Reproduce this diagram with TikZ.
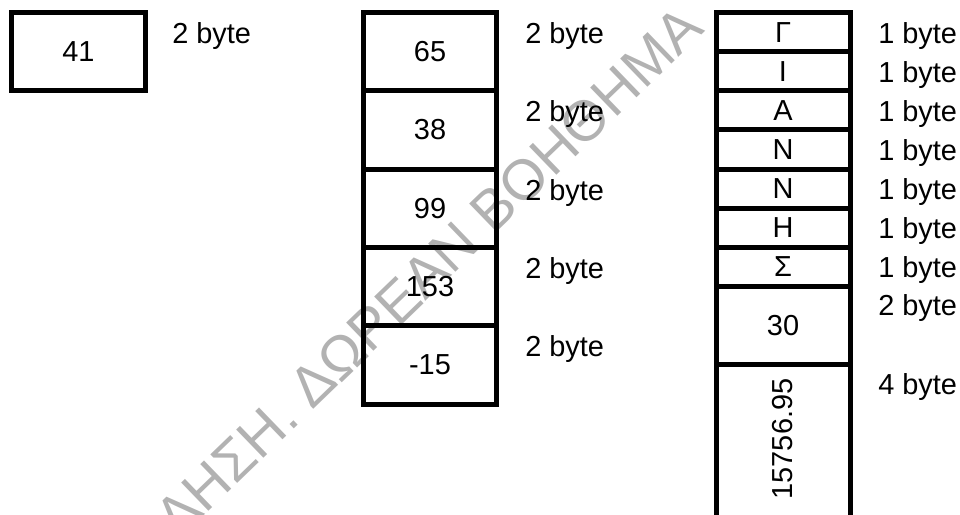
\documentclass[tikz,border=0pt]{standalone}
\usepackage{fontspec}
\setmainfont{Liberation Sans}
\newcommand{\cellfont}{\fontsize{21.7}{26}\selectfont}
\begin{document}
\begin{tikzpicture}[x=0.75pt,y=-0.75pt]
\tikzset{
  cell/.style={draw=black, line width=3.75pt, inner sep=0pt, outer sep=0pt, font=\cellfont},
  cw/.style={minimum width=#1*0.75pt},
  ch/.style={minimum height=#1*0.75pt},
  lab/.style={anchor=base west, inner sep=0pt, font=\cellfont},
  wmark/.style={anchor=base west, inner sep=0pt, text=black!30, font=\fontsize{42.75}{50}\selectfont}
}
\useasboundingbox (0,0) rectangle (960,514);
\clip (0,0) rectangle (960,514);
% watermark
\node[wmark, rotate=44] (wm) at (178,541) {ΛΗΣΗ. ΔΩΡΕΑΝ ΒΟΗΘΗΜΑ};
% single box
\node[cell, cw=134, ch=78] (b41) at (78.5,51.5) {41};
\node[lab] (l41) at (172,43) {2 byte};
% middle column
\node[cell, cw=133, ch=78.3] (m1) at (430,51.65) {65};
\node[cell, cw=133, ch=78.3] (m2) at (430,129.95) {38};
\node[cell, cw=133, ch=78.3] (m3) at (430,208.25) {99};
\node[cell, cw=133, ch=78.3] (m4) at (430,286.55) {153};
\node[cell, cw=133, ch=78.3] (m5) at (430,364.85) {-15};
\node[lab] (lm1) at (525,43) {2 byte};
\node[lab] (lm2) at (525,121.5) {2 byte};
\node[lab] (lm3) at (525,200) {2 byte};
\node[lab] (lm4) at (525,278) {2 byte};
\node[lab] (lm5) at (525,356) {2 byte};
% right column
\node[cell, cw=134, ch=39.15] (r1) at (783,32.08) {Γ};
\node[cell, cw=134, ch=39.15] (r2) at (783,71.23) {Ι};
\node[cell, cw=134, ch=39.15] (r3) at (783,110.38) {Α};
\node[cell, cw=134, ch=39.15] (r4) at (783,149.53) {Ν};
\node[cell, cw=134, ch=39.15] (r5) at (783,188.68) {Ν};
\node[cell, cw=134, ch=39.15] (r6) at (783,227.83) {Η};
\node[cell, cw=134, ch=39.15] (r7) at (783,266.98) {Σ};
\node[cell, cw=134, ch=78.3] (r8) at (783,325.7) {30};
\node[cell, cw=134, ch=156.6] (r9) at (783,443.15) {};
\node[inner sep=0pt, font=\cellfont, rotate=90] (v9) at (783,439) {15756.95};
\node[lab] (lr1) at (878,43) {1 byte};
\node[lab] (lr2) at (878,82) {1 byte};
\node[lab] (lr3) at (878,121) {1 byte};
\node[lab] (lr4) at (878,160) {1 byte};
\node[lab] (lr5) at (878,199) {1 byte};
\node[lab] (lr6) at (878,238) {1 byte};
\node[lab] (lr7) at (878,277) {1 byte};
\node[lab] (lr8) at (878,315) {2 byte};
\node[lab] (lr9) at (878,394) {4 byte};
\end{tikzpicture}
\end{document}
